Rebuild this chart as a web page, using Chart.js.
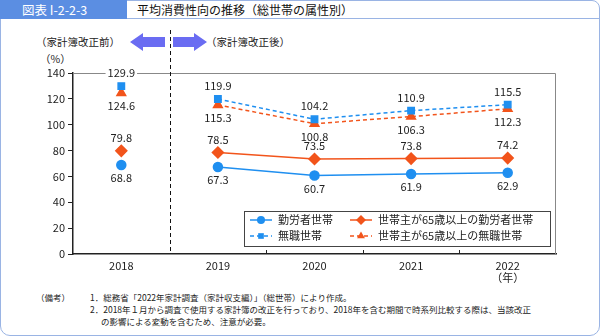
<!DOCTYPE html>
<html>
<head>
<meta charset="utf-8">
<script src="https://cdn.jsdelivr.net/npm/chart.js@4"></script>
<style>
  html, body { margin: 0; padding: 0; background: #fff; }
  body { width: 600px; height: 336px; position: relative; overflow: hidden;
         font-family: 'Noto Sans CJK JP', sans-serif; color: #222; }
  #frame { position: absolute; left: 0; top: 0; width: 600px; height: 336px;
           border: 1.5px solid #9ab4e4; border-radius: 0 8px 10px 10px; box-sizing: border-box; }
  #tab { position: absolute; left: 0; top: 0; width: 127px; height: 19px; background: #5b8ee2;
         color: #fff; font-size: 12.5px; line-height: 19px; padding-left: 22px; box-sizing: border-box; }
  #hline { position: absolute; left: 127px; top: 18px; width: 473px; height: 0; border-top: 1.5px solid #9ab4e4; }
  #title { position: absolute; left: 137px; top: 0; font-size: 12px; line-height: 19px; color: #111; }
  .t { position: absolute; white-space: nowrap; font-size: 10.5px; color: #222; }
  .note { position: absolute; white-space: nowrap; font-size: 8.5px; color: #222; }
  canvas { position: absolute; left: 0; top: 0; }
</style>
</head>
<body>
<div id="frame"></div>
<div id="tab">図表 I-2-2-3</div>
<div id="hline"></div>
<div id="title">平均消費性向の推移（総世帯の属性別）</div>
<div class="t" style="left:36px; top:34px;">（家計簿改正前）</div>
<div class="t" style="left:206px; top:34px;">（家計簿改正後）</div>
<div class="t" style="left:40px; top:51px;">（%）</div>
<div class="note" style="left:36px; top:291px;">（備考）</div>
<div class="note" style="left:90px; top:291px;">1．総務省「2022年家計調査（家計収支編）」（総世帯）により作成。</div>
<div class="note" style="left:90px; top:303px;">2．2018年１月から調査で使用する家計簿の改正を行っており、2018年を含む期間で時系列比較する際は、当該改正</div>
<div class="note" style="left:101px; top:315px;">の影響による変動を含むため、注意が必要。</div>
<canvas id="myChart" width="600" height="336"></canvas>
<script>
// データ
const years = ['2018', '2019', '2020', '2021', '2022'];
const yTicks = [0, 20, 40, 60, 80, 100, 120, 140];
const kinrou = [68.8, 67.3, 60.7, 61.9, 62.9];
const mushoku = [129.9, 119.9, 104.2, 110.9, 115.5];
const kinrou65 = [79.8, 78.5, 73.5, 73.8, 74.2];
const mushoku65 = [124.6, 115.3, 100.8, 106.3, 112.3];
const seriesNames = ['勤労者世帯', '無職世帯', '世帯主が65歳以上の勤労者世帯', '世帯主が65歳以上の無職世帯'];

const BLUE = '#1f8ff0';
const ORANGE = '#f2541b';
const FONT = "'Noto Sans CJK JP', sans-serif";

// 2018年と2019年の間は線を引かない
const skipFirst = ctx => ctx.p0DataIndex === 0 ? 'rgba(0,0,0,0)' : undefined;

function makeSet(label, data, color, style, radius, dashed, pos) {
  return {
    label: label,
    data: data,
    borderColor: color,
    backgroundColor: color,
    pointStyle: style,
    pointRadius: radius,
    pointHoverRadius: radius,
    borderWidth: 1.5,
    borderDash: dashed ? [4, 3] : [],
    segment: { borderColor: skipFirst },
    labelPos: pos
  };
}

const datasets = [
  makeSet(seriesNames[0], kinrou, BLUE, 'circle', 4.5, false, 'below'),
  makeSet(seriesNames[1], mushoku, BLUE, 'rect', 4.5, true, 'above'),
  makeSet(seriesNames[2], kinrou65, ORANGE, 'rectRot', 5.5, false, 'above'),
  makeSet(seriesNames[3], mushoku65, ORANGE, 'triangle', 5, true, 'below')
];

// 枠・破線・目盛り・数値ラベル・凡例
const decorations = {
  id: 'decorations',
  afterDatasetsDraw(chart) {
    const c = chart.ctx;
    const x = chart.scales.x;
    const area = chart.chartArea;
    const step = x.getPixelForValue(1) - x.getPixelForValue(0);
    c.save();
    // 上・右の枠線
    c.strokeStyle = '#888';
    c.lineWidth = 1;
    c.beginPath();
    c.moveTo(area.left, area.top + 0.5);
    c.lineTo(area.right - 0.5, area.top + 0.5);
    c.lineTo(area.right - 0.5, area.bottom);
    c.stroke();
    // 内向きの目盛り
    c.strokeStyle = '#222';
    c.beginPath();
    for (let i = 2; i < years.length; i++) {
      const px = Math.round(x.getPixelForValue(i) - step / 2) + 0.5;
      c.moveTo(px, area.bottom);
      c.lineTo(px, area.bottom - 4);
    }
    c.stroke();
    // 改正前後の区切り破線
    const dx = Math.round(x.getPixelForValue(0) + step / 2) + 0.5;
    c.setLineDash([4, 3]);
    c.strokeStyle = '#111';
    c.beginPath();
    c.moveTo(dx, 30);
    c.lineTo(dx, area.bottom);
    c.stroke();
    c.setLineDash([]);
    // 矢印
    c.fillStyle = '#6a6cf2';
    const ay = 42;
    c.beginPath();
    c.moveTo(130, ay);
    c.lineTo(143, ay - 9);
    c.lineTo(143, ay - 5);
    c.lineTo(165, ay - 5);
    c.lineTo(165, ay + 5);
    c.lineTo(143, ay + 5);
    c.lineTo(143, ay + 9);
    c.closePath();
    c.fill();
    c.beginPath();
    c.moveTo(207, ay);
    c.lineTo(194, ay - 9);
    c.lineTo(194, ay - 5);
    c.lineTo(173, ay - 5);
    c.lineTo(173, ay + 5);
    c.lineTo(194, ay + 5);
    c.lineTo(194, ay + 9);
    c.closePath();
    c.fill();
    // 数値ラベル
    c.font = '11px ' + FONT;
    c.textAlign = 'center';
    c.textBaseline = 'middle';
    chart.data.datasets.forEach((ds, di) => {
      const meta = chart.getDatasetMeta(di);
      meta.data.forEach((pt, i) => {
        const off = ds.labelPos === 'above' ? -13 : 13;
        const txt = ds.data[i].toFixed(1);
        const w = c.measureText(txt).width;
        if (ds.labelPos === 'above' && pt.y + off < area.top + 4) {
          c.fillStyle = '#fff';
          c.fillRect(pt.x - w / 2 - 2, pt.y + off - 6, w + 4, 12);
        }
        c.fillStyle = '#222';
        c.fillText(txt, pt.x, pt.y + off);
      });
    });
    // 凡例
    const lx = 244, ly = 211, lw = 306, lh = 35;
    c.fillStyle = '#fff';
    c.fillRect(lx, ly, lw, lh);
    c.strokeStyle = '#444';
    c.lineWidth = 1;
    c.strokeRect(lx + 0.5, ly + 0.5, lw, lh);
    const spots = [[250, 220], [250, 236], [350, 220], [350, 236]];
    c.textAlign = 'left';
    chart.data.datasets.forEach((ds, di) => {
      const [sx, sy] = spots[di];
      c.strokeStyle = ds.borderColor;
      c.lineWidth = 1.5;
      c.setLineDash(ds.borderDash);
      c.beginPath();
      c.moveTo(sx, sy);
      c.lineTo(sx + 22, sy);
      c.stroke();
      c.setLineDash([]);
      c.fillStyle = ds.borderColor;
      Chart.helpers.drawPoint(c, { pointStyle: ds.pointStyle, radius: ds.pointRadius - 0.5, rotation: 0, borderWidth: 0 }, sx + 11, sy);
      c.fillStyle = '#222';
      c.fillText(ds.label, sx + 28, sy);
    });
    c.restore();
  }
};

const context = document.getElementById('myChart');
const myChart = new Chart(context, {
  type: 'line',
  data: {
    labels: years.map((y, i) => i === years.length - 1 ? [y, '（年）'] : y),
    datasets: datasets
  },
  options: {
    responsive: false,
    animation: false,
    layout: { padding: { left: 0, top: 73, right: 44, bottom: 52 } },
    plugins: { legend: { display: false }, tooltip: { enabled: false } },
    scales: {
      x: {
        offset: true,
        grid: { display: false, drawTicks: false },
        border: { display: true, color: '#222', width: 1.5 },
        ticks: { color: '#222', font: { family: FONT, size: 11, lineHeight: 1.15 }, padding: 5, maxRotation: 0 },
        afterFit: s => { s.height = 30; }
      },
      y: {
        min: 0,
        max: 140,
        afterBuildTicks: s => { s.ticks = yTicks.map(v => ({ value: v })); },
        grid: { drawOnChartArea: false, drawTicks: true, tickLength: 5, color: '#222' },
        border: { display: true, color: '#222', width: 1.5 },
        ticks: { color: '#222', font: { family: FONT, size: 11 }, padding: 3 },
        afterFit: s => { s.width = 73; }
      }
    }
  },
  plugins: [decorations]
});
</script>
</body>
</html>
